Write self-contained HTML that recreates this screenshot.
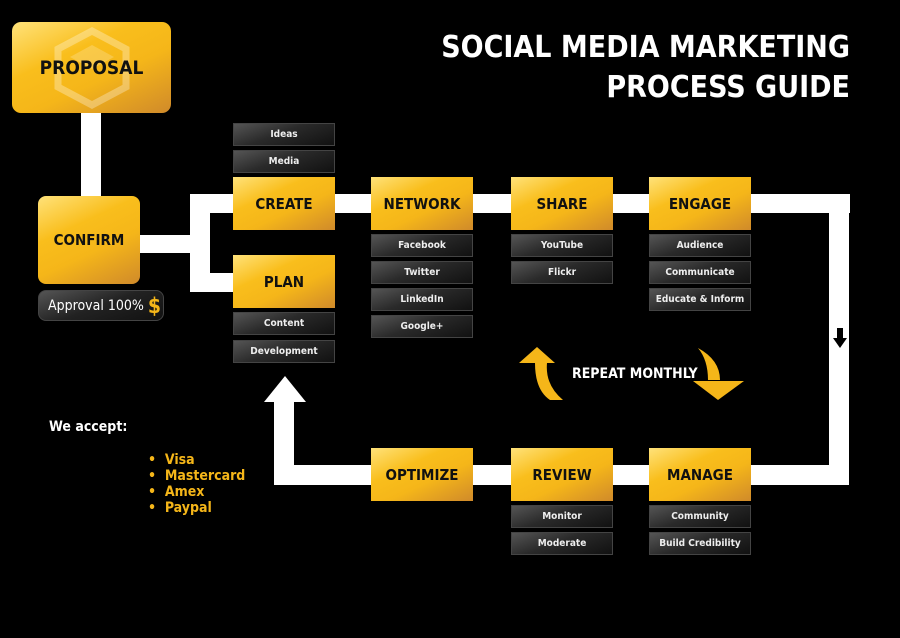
<!DOCTYPE html>
<html><head><meta charset="utf-8"><style>
*{margin:0;padding:0;box-sizing:border-box}
body{width:900px;height:638px;background:#000;position:relative;overflow:hidden;font-family:"DejaVu Sans Condensed","Liberation Sans",sans-serif;font-weight:bold}
.a{position:absolute}
.w{position:absolute;background:#fff}
.y{position:absolute;background:linear-gradient(155deg,#ffe27a 0%,#f9be1c 35%,#f5b619 60%,#d08a2a 100%);color:#111;display:flex;align-items:center;justify-content:center;font-size:15px}
.s{position:absolute;background:linear-gradient(160deg,#555 0%,#2a2a2a 45%,#111 100%);border:1px solid #444;color:#eee;font-size:10px;display:flex;align-items:center;justify-content:center;width:102px;height:23px;white-space:nowrap}
</style></head><body>
<div class="a" style="right:50px;top:28px;color:#fff;font-size:30px;text-align:right;line-height:40px">SOCIAL MEDIA MARKETING<br>PROCESS GUIDE</div>

<div class="w" style="left:81px;top:110px;width:20px;height:90px"></div>
<div class="w" style="left:138px;top:235px;width:60px;height:18px"></div>
<div class="w" style="left:190px;top:194px;width:20px;height:98px"></div>
<div class="w" style="left:190px;top:194px;width:660px;height:19px"></div>
<div class="w" style="left:190px;top:273px;width:46px;height:19px"></div>
<div class="w" style="left:829px;top:194px;width:20px;height:291px"></div>
<div class="w" style="left:274px;top:465px;width:575px;height:20px"></div>
<div class="w" style="left:274px;top:400px;width:20px;height:85px"></div>
<svg class="a" style="left:263px;top:376px" width="44" height="28"><polygon points="22,0 43,26 1,26" fill="#fff"/></svg>
<svg class="a" style="left:832px;top:328px" width="16" height="22"><polygon points="5,0 11,0 11,10 15,10 8,20 1,10 5,10" fill="#000"/></svg>

<div class="y" style="left:12px;top:22px;width:159px;height:91px;border-radius:9px;font-size:19px">
<svg class="a" style="left:40px;top:5px" width="80" height="82"><polygon points="40,4 74,22 74,60 40,78 6,60 6,22" fill="none" stroke="rgba(255,255,255,0.3)" stroke-width="7"/><polygon points="40,18 62,30 40,42 18,30" fill="rgba(255,255,255,0.2)"/></svg>
<span style="position:relative">PROPOSAL</span></div>
<div class="y" style="left:38px;top:196px;width:102px;height:88px;border-radius:8px">CONFIRM</div>
<div class="a" style="left:38px;top:290px;width:126px;height:31px;border-radius:8px;background:linear-gradient(160deg,#555,#222 50%,#111);border:1px solid #444;color:#fff;font-size:14px;font-weight:normal;display:flex;align-items:center;padding-left:9px;white-space:nowrap">Approval 100%&nbsp;<span style="color:#f5b619;font-size:21px;font-weight:bold">$</span></div>

<div class="s" style="left:233px;top:123px">Ideas</div>
<div class="s" style="left:233px;top:150px">Media</div>
<div class="y" style="left:233px;top:177px;width:102px;height:53px">CREATE</div>
<div class="y" style="left:233px;top:255px;width:102px;height:53px">PLAN</div>
<div class="s" style="left:233px;top:312px">Content</div>
<div class="s" style="left:233px;top:340px">Development</div>

<div class="y" style="left:371px;top:177px;width:102px;height:53px">NETWORK</div>
<div class="s" style="left:371px;top:234px">Facebook</div>
<div class="s" style="left:371px;top:261px">Twitter</div>
<div class="s" style="left:371px;top:288px">LinkedIn</div>
<div class="s" style="left:371px;top:315px">Google+</div>

<div class="y" style="left:511px;top:177px;width:102px;height:53px">SHARE</div>
<div class="s" style="left:511px;top:234px">YouTube</div>
<div class="s" style="left:511px;top:261px">Flickr</div>

<div class="y" style="left:649px;top:177px;width:102px;height:53px">ENGAGE</div>
<div class="s" style="left:649px;top:234px">Audience</div>
<div class="s" style="left:649px;top:261px">Communicate</div>
<div class="s" style="left:649px;top:288px">Educate &amp; Inform</div>

<svg class="a" style="left:515px;top:345px" width="235" height="60">
<path d="M35,55 Q20,45 20,18 L32,18 Q30,40 48,55 Z" fill="#f5b619"/>
<polygon points="22,2 40,18 4,18" fill="#f5b619"/>
<path d="M183,3 Q205,15 205,35 L193,35 Q193,15 183,3 Z" fill="#f5b619"/>
<polygon points="178,36 229,36 203,55" fill="#f5b619"/>
</svg>
<div class="a" style="left:572px;top:366px;color:#fff;font-size:14px">REPEAT MONTHLY</div>

<div class="y" style="left:371px;top:448px;width:102px;height:53px">OPTIMIZE</div>
<div class="y" style="left:511px;top:448px;width:102px;height:53px">REVIEW</div>
<div class="s" style="left:511px;top:505px">Monitor</div>
<div class="s" style="left:511px;top:532px">Moderate</div>
<div class="y" style="left:649px;top:448px;width:102px;height:53px">MANAGE</div>
<div class="s" style="left:649px;top:505px">Community</div>
<div class="s" style="left:649px;top:532px">Build Credibility</div>

<div class="a" style="left:49px;top:419px;color:#fff;font-size:14px">We accept:</div>
<div class="a" style="left:148px;top:452px;color:#f5b619;font-size:14px;line-height:16px">•&nbsp; Visa<br>•&nbsp; Mastercard<br>•&nbsp; Amex<br>•&nbsp; Paypal</div>
</body></html>
